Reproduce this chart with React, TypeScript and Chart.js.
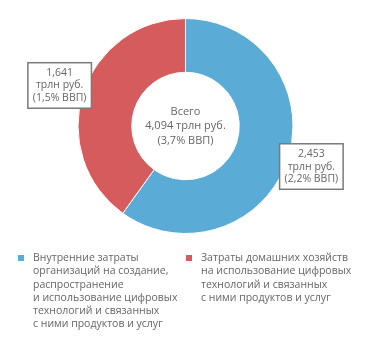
import React, { useEffect, useRef } from "react";
import { Chart, registerables } from "chart.js";

Chart.register(...registerables);

const categories = [
  "Внутренние затраты организаций на создание, распространение и использование цифровых технологий и связанных с ними продуктов и услуг",
  "Затраты домашних хозяйств на использование цифровых технологий и связанных с ними продуктов и услуг",
];
const values = [2.453, 1.641];
const colors = ["#5aacd6", "#d65b5c"];
const sliceLabels = [
  ["2,453", "трлн руб.", "(2,2% ВВП)"],
  ["1,641", "трлн руб.", "(1,5% ВВП)"],
];
const centerLines = ["Всего", "4,094 трлн руб.", "(3,7% ВВП)"];
const legendLines = [
  [
    "Внутренние затраты",
    "организаций на создание,",
    "распространение",
    "и использование цифровых",
    "технологий и связанных",
    "с ними продуктов и услуг",
  ],
  [
    "Затраты домашних хозяйств",
    "на использование цифровых",
    "технологий и связанных",
    "с ними продуктов и услуг",
  ],
];

const FONT = '"Open Sans", sans-serif';
const TEXT = "#666666";

const overlay = {
  id: "overlay",
  afterDraw(chart: any) {
    const ctx = chart.ctx;
    const meta = chart.getDatasetMeta(0);
    const arc0 = meta.data[0];
    const cx = arc0.x;
    const cy = arc0.y;
    const outer = arc0.outerRadius;
    ctx.save();
    ctx.fillStyle = TEXT;
    ctx.textAlign = "center";
    ctx.textBaseline = "middle";
    // center text
    ctx.font = `11px ${FONT}`;
    centerLines.forEach((l, i) => {
      ctx.fillText(l, cx, cy + (i - 1) * 14.5);
    });
    // slice label boxes
    ctx.font = `10.5px ${FONT}`;
    meta.data.forEach((arc: any, i: number) => {
      const mid = (arc.startAngle + arc.endAngle) / 2;
      const d = outer * 1.23;
      const bx = cx + Math.cos(mid) * d;
      const by = cy + Math.sin(mid) * d;
      const lines = sliceLabels[i];
      const lh = 12.5;
      let w = 0;
      lines.forEach((l) => (w = Math.max(w, ctx.measureText(l).width)));
      const bw = w + 10;
      const bh = lines.length * lh + 8;
      ctx.fillStyle = "#ffffff";
      ctx.fillRect(bx - bw / 2, by - bh / 2, bw, bh);
      ctx.strokeStyle = "#7a7a7a";
      ctx.lineWidth = 1.5;
      ctx.strokeRect(bx - bw / 2, by - bh / 2, bw, bh);
      ctx.fillStyle = TEXT;
      lines.forEach((l, j) => {
        ctx.fillText(l, bx, by + (j - 1) * lh);
      });
    });
    // legend
    ctx.textAlign = "left";
    ctx.textBaseline = "middle";
    ctx.font = `10.5px ${FONT}`;
    const legendTop = chart.chartArea.bottom + 24;
    const colX = [18, 186];
    legendLines.forEach((lines, i) => {
      ctx.fillStyle = colors[i];
      ctx.fillRect(colX[i], legendTop - 3, 6, 6);
      ctx.fillStyle = TEXT;
      lines.forEach((l, j) => {
        ctx.fillText(l, colX[i] + 15, legendTop + j * 13.3);
      });
    });
    ctx.restore();
  },
};

export default function App() {
  const ref = useRef<HTMLCanvasElement>(null);
  useEffect(() => {
    document.body.style.margin = "0";
    const chart = new Chart(ref.current!, {
      type: "doughnut",
      data: {
        labels: categories,
        datasets: [
          {
            data: values,
            backgroundColor: colors,
            borderColor: "#ffffff",
            borderWidth: 1,
          },
        ],
      },
      options: {
        animation: false,
        responsive: false,
        cutout: "50%",
        layout: { padding: { top: 18, bottom: 114, left: 0, right: 0 } },
        plugins: {
          legend: { display: false },
          tooltip: { enabled: false },
        },
      },
      plugins: [overlay],
    });
    return () => chart.destroy();
  }, []);
  return (
    <div style={{ width: 371, height: 348 }}>
      <canvas ref={ref} width={371} height={348} style={{ display: "block" }} />
    </div>
  );
}
